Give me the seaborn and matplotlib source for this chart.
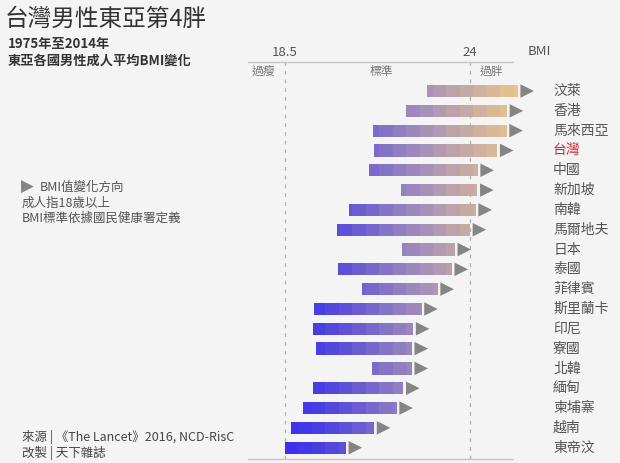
import numpy as np
import pandas as pd
import matplotlib
matplotlib.use('Agg')
import matplotlib.pyplot as plt
import seaborn as sns
from matplotlib.colors import LinearSegmentedColormap

# DADOS (BMI 1975 -> 2014)
paises = ['汶萊', '香港', '馬來西亞', '台灣', '中國', '新加坡', '南韓', '馬爾地夫', '日本',
          '泰國', '菲律賓', '斯里蘭卡', '印尼', '寮國', '北韓', '緬甸', '柬埔寨', '越南', '東帝汶']
bmi_1975 = [22.71, 22.09, 21.11, 21.15, 21.01, 21.94, 20.39, 20.05, 21.97,
            20.08, 20.78, 19.37, 19.34, 19.41, 21.10, 19.34, 19.04, 18.68, 18.50]
bmi_2014 = [25.42, 25.10, 25.09, 24.81, 24.23, 24.22, 24.17, 24.00, 23.55,
            23.46, 23.04, 22.56, 22.31, 22.27, 22.27, 22.02, 21.82, 21.15, 20.31]
limites = [18.5, 24]
faixas = ['過瘦', '標準', '過胖']

df = pd.DataFrame({'Pais': paises, 'Inicio': bmi_1975, 'Fim': bmi_2014})
df['Linha'] = np.arange(len(df))

sns.set_theme(style='white')
plt.rcParams['font.family'] = ['Noto Sans CJK TC', 'DejaVu Sans']

FUNDO = '#f4f4f4'
CINZA = '#555555'

cmap = LinearSegmentedColormap.from_list('bmi', [
    (0.00, '#3a2ef0'), (0.15, '#4a40e0'), (0.29, '#6657d4'), (0.43, '#8674c6'),
    (0.57, '#a28dba'), (0.71, '#bba3aa'), (0.86, '#d4b49a'), (1.00, '#e8ca8a')])
vmin, vmax = 18.5, 25.5

fig = plt.figure(figsize=(6.2, 4.63), dpi=100, facecolor=FUNDO)
ax = fig.add_axes([0.4, 0.0093, 0.4274, 0.8568])
ax.set_facecolor(FUNDO)

# segmentos de cor em passos fixos de BMI
passo = 0.4
for _, r in df.iterrows():
    cortes = [r.Inicio]
    g = vmin + passo * (np.floor((r.Inicio - vmin) / passo) + 1)
    while g < r.Fim - 0.05:
        cortes.append(g)
        g += passo
    cortes.append(r.Fim)
    for a, b in zip(cortes[:-1], cortes[1:]):
        cor = cmap(((a + b) / 2 - vmin) / (vmax - vmin))
        ax.barh(r.Linha, b - a, left=a, height=0.62, color=cor, edgecolor='none', clip_on=False)

# setas de direcao
df['Seta'] = df['Fim'] + 0.28
sns.scatterplot(data=df, x='Seta', y='Linha', marker='>', s=95, color='#858585',
                edgecolor='none', ax=ax, clip_on=False, legend=False)

for lim in limites:
    ax.axvline(lim, color='#b0b0b0', lw=0.9, ls=(0, (3, 4)), zorder=0)

ax.set_xlim(17.4, 25.278)
ax.set_ylim(18.556, -1.465)
ax.xaxis.tick_top()
ax.set_xticks(limites)
ax.set_xticklabels(['18.5', '24'], fontsize=9.5, color=CINZA)
ax.tick_params(axis='x', length=0, pad=2)
ax.set_yticks([])
ax.set_xlabel('')
ax.set_ylabel('')
for s in ['left', 'right']:
    ax.spines[s].set_visible(False)
for s in ['top', 'bottom']:
    ax.spines[s].set_color('#c4c4c4')
    ax.spines[s].set_linewidth(1.0)

ax.text(25.72, -1.465 - 0.52, 'BMI', fontsize=9.5, color=CINZA, va='center', clip_on=False)
for x, t in zip([17.85, 21.37, 24.65], faixas):
    ax.text(x, -0.98, t, fontsize=8.5, color='#777777', ha='center', va='center')

for _, r in df.iterrows():
    ax.text(26.47, r.Linha, r.Pais, fontsize=10, va='center', clip_on=False,
            color='#d42a3c' if r.Pais == '台灣' else CINZA)

# textos
fig.text(0.008, 0.958, '台灣男性東亞第4胖', fontsize=17, color='#333333', va='center')
fig.text(0.013, 0.904, '1975年至2014年', fontsize=9.5, color='#333333', va='center', weight='bold')
fig.text(0.013, 0.868, '東亞各國男性成人平均BMI變化', fontsize=9.5, color='#333333', va='center', weight='bold')

fig.text(0.033, 0.597, '▶', fontsize=12, color='#858585', va='center', family=['DejaVu Sans'])
fig.text(0.064, 0.596, 'BMI值變化方向', fontsize=9, color=CINZA, va='center')
fig.text(0.035, 0.561, '成人指18歲以上', fontsize=9, color=CINZA, va='center')
fig.text(0.035, 0.529, 'BMI標準依據國民健康署定義', fontsize=9, color=CINZA, va='center')

fig.text(0.035, 0.056, '來源 | 《The Lancet》2016, NCD-RisC', fontsize=9, color='#444444', va='center')
fig.text(0.035, 0.022, '改製 | 天下雜誌', fontsize=9, color='#444444', va='center')

plt.savefig('out.png', dpi=100, facecolor=FUNDO)
